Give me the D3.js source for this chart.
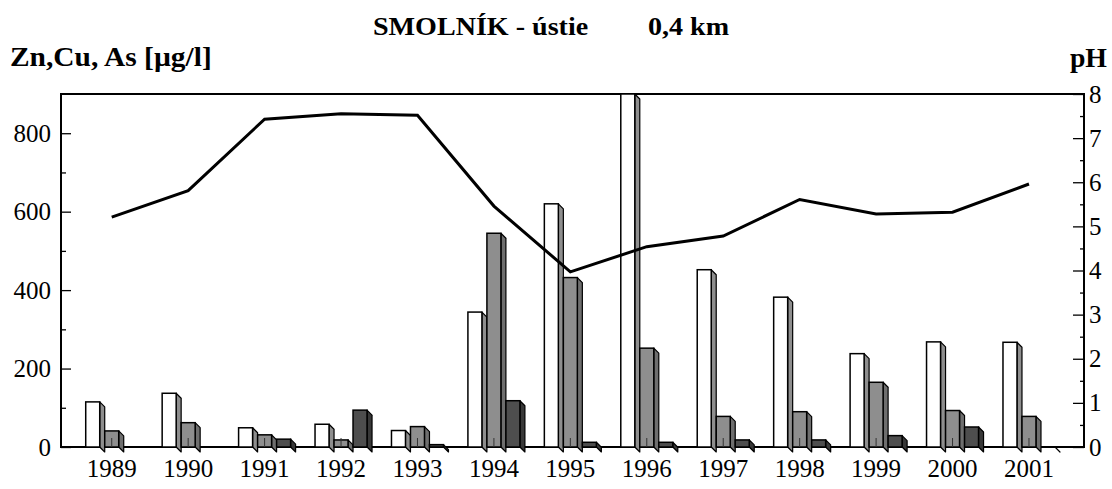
<!DOCTYPE html>
<html>
<head>
<meta charset="utf-8">
<script src="https://cdn.jsdelivr.net/npm/d3@7"></script>
<style>
  html, body { margin: 0; padding: 0; background: #fff; }
  svg { display: block; }
</style>
</head>
<body>
<svg id="chart" width="1112" height="489"></svg>
<script>
// Smolník creek at its mouth (0.4 km): metals and pH by year
const years = [1989, 1990, 1991, 1992, 1993, 1994, 1995, 1996, 1997, 1998, 1999, 2000, 2001];
const zn = [115, 137, 49, 58, 42, 344, 620, 900, 452, 382, 238, 268, 267];
const cu = [41, 62, 31, 18, 52, 545, 432, 252, 78, 90, 165, 93, 78];
const as = [null, null, 20, 94, 6, 118, 12, 12, 18, 18, 29, 51, 0];
const ph = [5.21, 5.81, 7.43, 7.55, 7.52, 5.46, 3.97, 4.54, 4.78, 5.61, 5.28, 5.32, 5.96];
const metalTicks = [0, 200, 400, 600, 800];
const phTicks = [0, 1, 2, 3, 4, 5, 6, 7, 8];

const FONT = "Liberation Serif";
const svg = d3.select("#chart");
const plotL = 61, plotR = 1084, plotT = 94, plotB = 447;

const x = d3.scaleBand().domain(years).range([73.5, 1067.2]).padding(0);
const sx = d3.scalePoint().domain(["Zn", "Cu", "As"]).range([-19, 19]);
const y = d3.scaleLinear().domain([0, 900]).range([plotB, plotT]);
const yPh = d3.scaleLinear().domain([0, 8]).range([plotB, plotT]);
const cx = yr => x(yr) + x.bandwidth() / 2;

const series = [
  { key: "Zn", values: zn, front: "#ffffff", side: "#8e8e8e" },
  { key: "Cu", values: cu, front: "#8e8e8e", side: "#6e6e6e" },
  { key: "As", values: as, front: "#4e4e4e", side: "#383838" }
];

function styleLabels(g, size) {
  g.attr("font-family", null).attr("font-size", null);
  g.selectAll("text")
    .style("font-family", FONT).style("font-size", size + "px")
    .attr("fill", "#000");
}

// frame
svg.append("rect")
  .attr("x", plotL).attr("y", plotT)
  .attr("width", plotR - plotL).attr("height", plotB - plotT)
  .attr("fill", "none").attr("stroke", "#000").attr("stroke-width", 2);

// left axis: major and minor ticks pointing inward
const gL = svg.append("g").attr("transform", `translate(${plotL},0)`);
gL.call(d3.axisLeft(y).tickValues(metalTicks).tickSizeInner(-10).tickSizeOuter(0).tickPadding(10));
gL.append("g").call(d3.axisLeft(y).tickValues([100, 300, 500, 700]).tickSizeInner(-5).tickSizeOuter(0).tickFormat(""));
gL.selectAll(".domain").remove();
gL.selectAll("line").attr("stroke", "#000").attr("stroke-width", 1.3);
styleLabels(gL, 25);

// right axis
const gR = svg.append("g").attr("transform", `translate(${plotR},0)`);
gR.call(d3.axisRight(yPh).tickValues(phTicks).tickSizeInner(-11).tickSizeOuter(0).tickPadding(5));
gR.append("g").call(d3.axisRight(yPh).tickValues(d3.range(0.5, 8, 1)).tickSizeInner(-4).tickSizeOuter(0).tickFormat(""));
gR.selectAll(".domain").remove();
gR.selectAll("line").attr("stroke", "#000").attr("stroke-width", 1.3);
styleLabels(gR, 25);

// category axis labels
const gB = svg.append("g").attr("transform", `translate(0,${plotB})`);
gB.call(d3.axisBottom(x).tickSize(0).tickPadding(12));
gB.selectAll(".domain").remove();
styleLabels(gB, 25);

// 3D bars: front face plus a right side face offset down-right
const dx = 5, dy = 5, w = 14;
series.forEach(s => {
  const g = svg.append("g");
  years.forEach((yr, i) => {
    const v = s.values[i];
    if (v == null) return;
    const x0 = cx(yr) + sx(s.key) - w / 2;
    const x1 = x0 + w;
    const yt = y(v);
    g.append("path")
      .attr("d", `M${x1},${yt}L${x1 + dx},${yt + dy}L${x1 + dx},${plotB + dy}L${x1},${plotB}Z`)
      .attr("fill", s.side).attr("stroke", "#000").attr("stroke-width", 1.2).attr("stroke-linejoin", "round");
    if (v > 0) {
      g.append("rect")
        .attr("x", x0).attr("y", yt).attr("width", w).attr("height", plotB - yt)
        .attr("fill", s.front).attr("stroke", "#000").attr("stroke-width", 1.5);
    }
  });
});

// small category ticks at group centres
svg.append("g").selectAll("line").data(years).join("line")
  .attr("x1", d => cx(d)).attr("x2", d => cx(d))
  .attr("y1", plotB).attr("y2", plotB - 9)
  .attr("stroke", "#333").attr("stroke-width", 1);

// pH line
const line = d3.line().x((d, i) => cx(years[i])).y(d => yPh(d));
svg.append("path").datum(ph)
  .attr("d", line)
  .attr("fill", "none").attr("stroke", "#000").attr("stroke-width", 3).attr("stroke-linejoin", "miter");

// titles (slightly widened bold serif)
function boldText(xp, yp, str, size, stretch, anchor) {
  return svg.append("text")
    .attr("transform", `translate(${xp},${yp}) scale(${stretch},1)`)
    .attr("text-anchor", anchor || "start").attr("fill", "#000")
    .style("font-family", FONT).style("font-size", size + "px").style("font-weight", "bold")
    .text(str);
}
boldText(373, 35, "SMOLNÍK - ústie", 26, 1.08);
boldText(648, 35, "0,4 km", 26, 1.08);
boldText(10, 66, "Zn,Cu, As [µg/l]", 27, 1.09);
boldText(1107, 67, "pH", 27, 1.03, "end");
</script>
</body>
</html>
